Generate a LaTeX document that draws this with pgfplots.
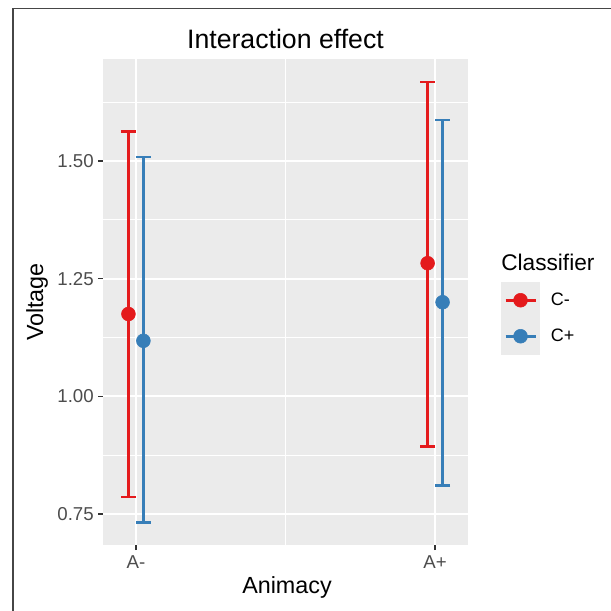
\documentclass[border=0pt]{standalone}
\usepackage{pgfplots}
\pgfplotsset{compat=1.18}
\usepackage{fontspec}
\setmainfont{Liberation Sans}
\definecolor{cred}{HTML}{E41A1C}
\definecolor{cblue}{HTML}{377EB8}
\definecolor{gray92}{HTML}{EBEBEB}
\definecolor{gray30}{HTML}{4D4D4D}
\definecolor{gray20}{HTML}{333333}
\begin{document}
\begin{tikzpicture}
\useasboundingbox (0,0) rectangle (458.25pt,458.25pt);
\fill[white] (0,0) rectangle (458.25pt,458.25pt);
\draw[line width=1.1pt, color=gray!55!black] (9.75pt,-20pt) rectangle (480pt,451.8pt);
\begin{axis}[
  at={(77.25pt,49.5pt)}, anchor=south west,
  scale only axis, width=273.75pt, height=364.5pt,
  xmin=0.89, xmax=2.11, ymin=0.684, ymax=1.717,
  axis background/.style={fill=gray92},
  axis line style={draw=none},
  xtick={1,2}, xticklabels={A-,A+},
  ytick={0.75,1,1.25,1.5},
  yticklabels={0.75,1.00,1.25,1.50},
  minor xtick={1.5},
  minor ytick={0.875,1.125,1.375,1.625},
  grid=both,
  major grid style={white, line width=1.4pt},
  minor grid style={white, line width=0.7pt},
  tick align=outside, tick pos=left,
  major tick length=3.75pt, minor tick length=0pt,
  tick style={gray20, line width=1.1pt},
  /pgf/number format/assume math mode=true,
  ticklabel style={font=\fontsize{14}{16}\selectfont, text=gray30},
  yticklabel style={inner sep=0pt, xshift=-3pt},
  xticklabel style={inner sep=0pt, yshift=-4pt},
  legend style={at={(1.0904,0.5412)}, anchor=north west, draw=none, fill=none,
    inner sep=0pt, row sep=0pt, column sep=0pt,
    nodes={inner sep=0pt, anchor=west},
    font=\fontsize{13.5}{16}\selectfont},
  legend cell align=left,
]
\addplot+[only marks, mark=*, color=cred, mark size=5.2pt, mark options={solid, fill=cred, draw=cred},
  legend image code/.code={
    \fill[gray92] (0pt,-13.3pt) rectangle (28.5pt,13.3pt);
    \draw[cred, line width=2pt] (3pt,0pt) -- (25.5pt,0pt);
    \fill[cred] (14.25pt,0pt) circle (5.2pt);
    \path (36.75pt,0pt);
  },
  error bars/.cd, y dir=both, y explicit,
  error bar style={line width=2pt, cred},
  error mark options={rotate=90, mark size=5.6pt, line width=2pt, cred}]
  table[x=x, y=y, y error plus=ep, y error minus=em] {
x y ep em
0.975 1.175 0.3875 0.389
1.975 1.283 0.385 0.389
};
\addlegendentry{C-}
\addplot+[only marks, mark=*, color=cblue, mark size=5.2pt, mark options={solid, fill=cblue, draw=cblue},
  legend image code/.code={
    \fill[gray92] (0pt,-13.3pt) rectangle (28.5pt,13.3pt);
    \draw[cblue, line width=2pt] (3pt,0pt) -- (25.5pt,0pt);
    \fill[cblue] (14.25pt,0pt) circle (5.2pt);
    \path (36.75pt,0pt);
  },
  error bars/.cd, y dir=both, y explicit,
  error bar style={line width=2pt, cblue},
  error mark options={rotate=90, mark size=5.6pt, line width=2pt, cblue}]
  table[x=x, y=y, y error plus=ep, y error minus=em] {
x y ep em
1.025 1.118 0.391 0.386
2.025 1.200 0.387 0.390
};
\addlegendentry{C+}
\end{axis}
\node[font=\fontsize{20}{24}\selectfont] at (214.1pt,429pt) {Interaction effect};
\node[font=\fontsize{17.5}{20}\selectfont] at (215.25pt,18pt) {Animacy};
\node[font=\fontsize{17.5}{20}\selectfont, rotate=90] at (27.75pt,231.75pt) {Voltage};
\node[font=\fontsize{17}{20}\selectfont, anchor=west, inner sep=0pt] at (375.75pt,261.75pt) {Classifier};
\end{tikzpicture}
\end{document}
